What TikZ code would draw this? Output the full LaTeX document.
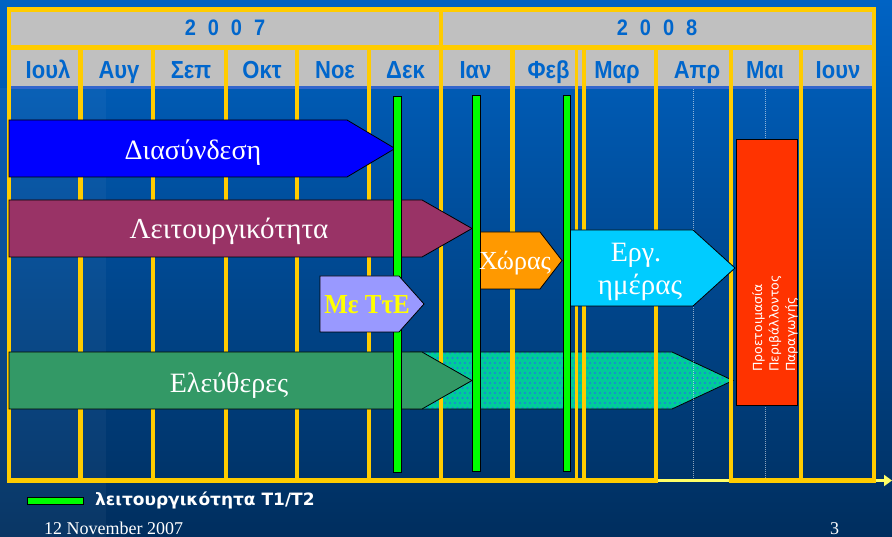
\documentclass[tikz,border=0pt]{standalone}
\usepackage{fontspec}
\setmainfont{Liberation Serif}
\setsansfont{Liberation Sans}
\newfontfamily\verdfont{DejaVu Sans}
\usetikzlibrary{arrows.meta}
\definecolor{bgtop}{RGB}{0,99,196}
\definecolor{bgbot}{RGB}{0,46,94}
\definecolor{gridyellow}{RGB}{255,204,0}
\definecolor{headgray}{RGB}{192,192,192}
\definecolor{headblue}{RGB}{0,102,204}
\definecolor{striplight}{RGB}{51,102,204}
\definecolor{lightyellow}{RGB}{255,255,102}
\definecolor{arrblue}{RGB}{0,0,255}
\definecolor{arrmaroon}{RGB}{153,51,102}
\definecolor{arrgreen}{RGB}{51,153,102}
\definecolor{arrteal}{RGB}{0,204,153}
\definecolor{dotblue}{RGB}{30,130,220}
\definecolor{arrorange}{RGB}{255,153,0}
\definecolor{arrcyan}{RGB}{0,204,255}
\definecolor{arrlav}{RGB}{153,153,255}
\definecolor{boxred}{RGB}{255,51,0}
\definecolor{barg}{RGB}{0,255,0}
\definecolor{lavtext}{RGB}{255,255,0}
\tikzset{
  gridline/.style={draw=gridyellow, line width=4.5pt},
  monthlabel/.style={font=\sffamily\bfseries\fontsize{22}{24}\selectfont, text=headblue, inner sep=0pt, anchor=base},
  yearlabel/.style={font=\sffamily\bfseries\fontsize{20}{22}\selectfont, text=headblue, inner sep=0pt, anchor=base},
  shapeline/.style={draw=black, line width=0.8pt},
  greenbar/.style={fill=barg, draw=black, line width=0.8pt},
  bigtext/.style={font=\fontsize{28}{33}\selectfont, text=white, inner sep=0pt, anchor=base},
  dottedguide/.style={draw=white, opacity=0.55, line width=0.8pt, dash pattern=on 1pt off 1pt},
}
\newcommand{\mlab}[1]{\scalebox{1}[1.12]{#1}}
\begin{document}
\begin{tikzpicture}[x=1pt,y=-1pt]
\useasboundingbox (0,0) rectangle (892,537);
% background
\shade[top color=bgtop, bottom color=bgbot] (0,0) rectangle (892,537);
\fill[white, opacity=0.04] (0,88) rectangle (106,537);
% header fills
\fill[headgray] (9,9.5) rectangle (874,47.5);
\fill[headgray] (9,47.5) rectangle (874,86);
\fill[striplight] (9,86) rectangle (874,89);
% dotted teal arrow (behind grid)
\fill[arrteal] (410,352) -- (672,352) -- (733,380.5) -- (672,409) -- (410,409) -- cycle;
\begin{scope}
  \clip (410,352) -- (672,352) -- (733,380.5) -- (672,409) -- (410,409) -- cycle;
  \foreach \i in {0,...,65} \foreach \j in {0,...,12}
    \fill[dotblue] ({410+\i*5+mod(\j,2)*2.5},{353+\j*5}) circle (1.2);
\end{scope}
\draw[shapeline] (410,352) -- (672,352) -- (733,380.5) -- (672,409) -- (410,409);
% axis arrow
\coordinate (axisA) at (656,480.5);
\coordinate (axisB) at (892,480.5);
\draw[lightyellow, line width=3.5pt, -{Triangle[length=8pt,width=11pt]}] (axisA) -- (axisB);
% dotted guides
\draw[dottedguide] (693,89) -- (693,479);
\draw[dottedguide] (765,89) -- (765,479);
% yellow grid
\draw[gridline] (9,9.5) rectangle (441,47.5);
\draw[gridline] (441,9.5) rectangle (874,47.5);
\foreach \gx in {9,80.5,153,226,297,369,441,512.5,656,731,801,874}
  \draw[gridline] (\gx,47.5) -- (\gx,482.75);
\draw[draw=gridyellow, line width=3.5pt] (576.5,47.5) -- (576.5,482.75);
\draw[draw=gridyellow, line width=3.5pt] (584,47.5) -- (584,482.75);
\draw[gridline] (6.75,480.5) -- (656,480.5);
\draw[gridline] (731,480.5) -- (876.25,480.5);
% header labels
\node[yearlabel] (y2007) at (225,36) {\mlab{2\hspace{12pt}0\hspace{12pt}0\hspace{12pt}7}};
\node[yearlabel] (y2008) at (657,36) {\mlab{2\hspace{12pt}0\hspace{12pt}0\hspace{12pt}8}};
\node[monthlabel] (m1) at (48,79) {\mlab{Ιουλ}};
\node[monthlabel] (m2) at (119,79) {\mlab{Αυγ}};
\node[monthlabel] (m3) at (191,79) {\mlab{Σεπ}};
\node[monthlabel] (m4) at (262,79) {\mlab{Οκτ}};
\node[monthlabel] (m5) at (335,79) {\mlab{Νοε}};
\node[monthlabel] (m6) at (405.5,79) {\mlab{Δεκ}};
\node[monthlabel] (m7) at (475.5,79) {\mlab{Ιαν}};
\node[monthlabel] (m8) at (548.5,79) {\mlab{Φεβ}};
\node[monthlabel] (m9) at (617,79) {\mlab{Μαρ}};
\node[monthlabel] (m10) at (697,79) {\mlab{Απρ}};
\node[monthlabel] (m11) at (765,79) {\mlab{Μαι}};
\node[monthlabel] (m12) at (838,79) {\mlab{Ιουν}};
% arrows
\filldraw[fill=arrblue, shapeline] (9,120) -- (347,120) -- (395,148.5) -- (347,177) -- (9,177) -- cycle;
\filldraw[fill=arrmaroon, shapeline] (9,200) -- (422,200) -- (472,228.5) -- (422,257) -- (9,257) -- cycle;
\filldraw[fill=arrgreen, shapeline] (9,352) -- (422,352) -- (472,380.5) -- (422,409) -- (9,409) -- cycle;
\filldraw[fill=arrorange, shapeline] (479,232) -- (540,232) -- (562,260.5) -- (540,289) -- (479,289) -- cycle;
\filldraw[fill=arrcyan, shapeline] (570,230) -- (693,230) -- (735,268) -- (693,306) -- (570,306) -- cycle;
\filldraw[fill=boxred, shapeline] (736,139) rectangle (797,405);
% green bars
\filldraw[greenbar] (393.5,96) rectangle (401,472);
\filldraw[greenbar] (472.5,95) rectangle (480,471);
\filldraw[greenbar] (563,95) rectangle (570.5,471);
% Me TtE box
\filldraw[fill=arrlav, shapeline] (320,276) -- (399,276) -- (424,304) -- (399,332) -- (320,332) -- cycle;
% texts
\node[bigtext] (t1) at (193,160) {Διασύνδεση};
\node[bigtext, font=\fontsize{29}{33}\selectfont] (t2) at (229,239) {Λειτουργικότητα};
\node[bigtext] (t3) at (229,392) {Ελεύθερες};
\node[bigtext, font=\fontsize{26}{30}\selectfont] (t4) at (515,270) {Χώρας};
\node[bigtext] (t5) at (636,262) {Εργ.};
\node[bigtext, font=\fontsize{29}{33}\selectfont] (t6) at (640,295) {ημέρας};
\node[inner sep=0pt, anchor=base, text=lavtext, font=\bfseries\fontsize{25}{28}\selectfont] (t7) at (367,314) {\scalebox{1}[1.1]{Με ΤτΕ}};
\node[rotate=90, anchor=west, align=left, inner sep=0pt, text=white, font=\verdfont\fontsize{12.5}{16.5}\selectfont] (t8) at (775,372) {Προετοιμασία\\Περιβάλλοντος\\Παραγωγής};
% legend
\filldraw[greenbar] (27,497) rectangle (83,504);
\node[inner sep=0pt, anchor=base west, text=white, font=\verdfont\bfseries\fontsize{17}{19}\selectfont] (legend) at (95,505) {λειτουργικότητα Τ1/Τ2};
% footer
\node[inner sep=0pt, anchor=base west, text=white, font=\fontsize{18}{20}\selectfont] (date) at (44,534) {12 November 2007};
\node[inner sep=0pt, anchor=base west, text=white, font=\fontsize{18}{20}\selectfont] (page) at (830,534) {3};
\end{tikzpicture}
\end{document}
